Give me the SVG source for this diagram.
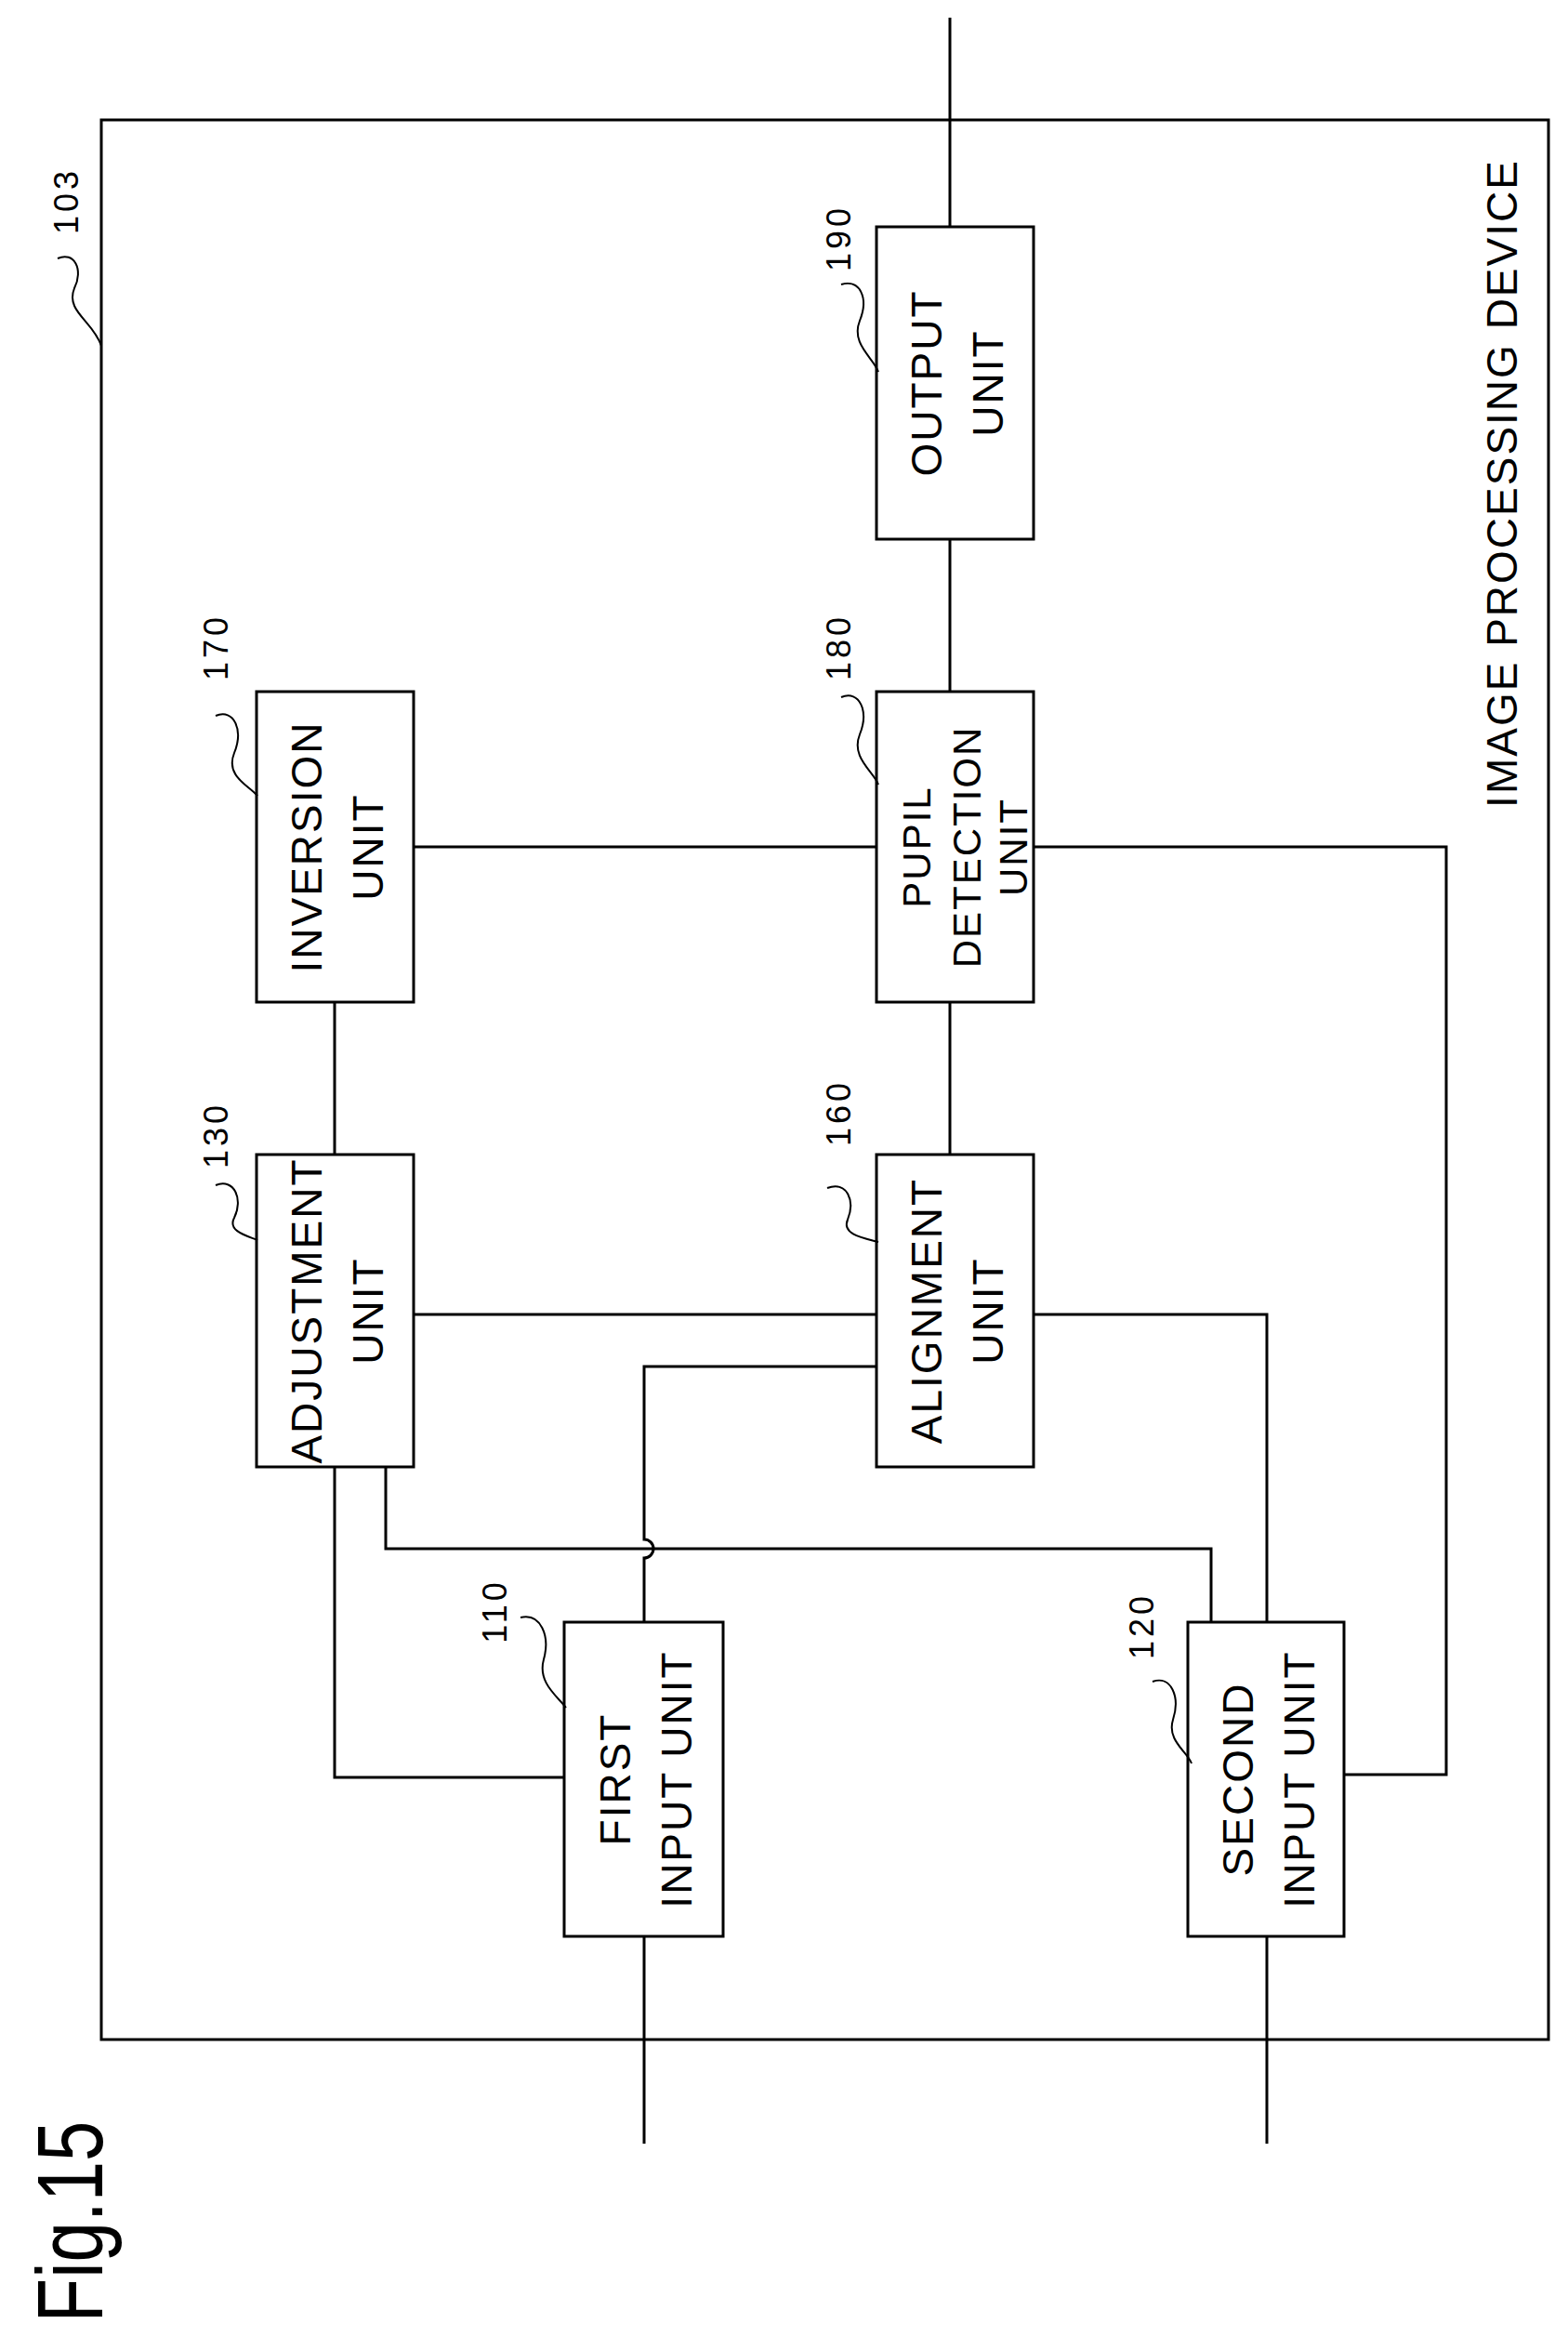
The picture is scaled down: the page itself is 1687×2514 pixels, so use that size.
<svg xmlns="http://www.w3.org/2000/svg" width="1687" height="2514" viewBox="0 0 1687 2514">
<style>
.b{fill:#fff;stroke:#000;stroke-width:3}
.c{fill:none;stroke:#000;stroke-width:3}
.t{font-family:"Liberation Sans",Arial,sans-serif;font-size:46px;text-anchor:middle;fill:#000;letter-spacing:2px}
.n{font-family:"Liberation Sans",Arial,sans-serif;font-size:36px;text-anchor:middle;fill:#000;letter-spacing:4px}
.l{fill:none;stroke:#000;stroke-width:2}
</style>
<rect width="1687" height="2514" fill="#fff"/>
<g id="device">
<rect x="109" y="129" width="1557" height="2065" class="c"/>
<text class="t" transform="translate(1632,520) rotate(-90)">IMAGE PROCESSING DEVICE</text>
<text class="n" transform="translate(84,216) rotate(-90)">103</text>
<path class="l" d="M62,278 C80,270 90,290 80,310 C70,335 100,345 109,372"/>
</g>
<g id="connectors">
<path class="c" d="M1022,19 V244 M1022,580 V744 M1022,1078 V1242"/>
<path class="c" d="M360,1078 V1242 M445,911 H943 M1112,911 H1556 V1909 H1446"/>
<path class="c" d="M445,1414 H943 M1112,1414 H1363 V1745"/>
<path class="c" d="M943,1470 H693 V1656 A10,10 0 0 1 693,1676 V1745"/>
<path class="c" d="M360,1578 V1912 H607"/>
<path class="c" d="M415,1578 V1666 H1303 V1745"/>
<path class="c" d="M693,2083 V2306 M1363,2083 V2306"/>
</g>
<g id="n190">
<rect x="943" y="244" width="169" height="336" class="b"/>
<text class="t" transform="translate(1027,412) rotate(-90)"><tspan x="0" y="-14">OUTPUT</tspan><tspan x="0" y="52">UNIT</tspan></text>
<text class="n" transform="translate(915,256) rotate(-90)">190</text>
<path class="l" d="M905,306 C925,300 935,320 925,345 C915,370 940,385 945,400"/>
</g>
<g id="n170">
<rect x="276" y="744" width="169" height="334" class="b"/>
<text class="t" transform="translate(360,911) rotate(-90)"><tspan x="0" y="-14">INVERSION</tspan><tspan x="0" y="52">UNIT</tspan></text>
<text class="n" transform="translate(245,696) rotate(-90)">170</text>
<path class="l" d="M232,770 C252,762 262,785 252,810 C242,835 268,845 277,856"/>
</g>
<g id="n180">
<rect x="943" y="744" width="169" height="334" class="b"/>
<text class="t" style="font-size:42px" transform="translate(1027,911) rotate(-90)"><tspan x="0" y="-26">PUPIL</tspan><tspan x="0" y="28">DETECTION</tspan><tspan x="0" y="78">UNIT</tspan></text>
<text class="n" transform="translate(915,696) rotate(-90)">180</text>
<path class="l" d="M905,750 C925,742 935,765 925,790 C915,815 940,830 945,844"/>
</g>
<g id="n130">
<rect x="276" y="1242" width="169" height="336" class="b"/>
<text class="t" transform="translate(360,1410) rotate(-90)"><tspan x="0" y="-14">ADJUSTMENT</tspan><tspan x="0" y="52">UNIT</tspan></text>
<text class="n" transform="translate(245,1221) rotate(-90)">130</text>
<path class="l" d="M232,1275 C252,1267 262,1290 252,1310 C244,1325 268,1330 277,1334"/>
</g>
<g id="n160">
<rect x="943" y="1242" width="169" height="336" class="b"/>
<text class="t" transform="translate(1027,1410) rotate(-90)"><tspan x="0" y="-14">ALIGNMENT</tspan><tspan x="0" y="52">UNIT</tspan></text>
<text class="n" transform="translate(915,1197) rotate(-90)">160</text>
<path class="l" d="M890,1278 C912,1270 920,1292 912,1312 C905,1328 930,1332 945,1336"/>
</g>
<g id="n110">
<rect x="607" y="1745" width="171" height="338" class="b"/>
<text class="t" transform="translate(692,1914) rotate(-90)"><tspan x="0" y="-14">FIRST</tspan><tspan x="0" y="52">INPUT UNIT</tspan></text>
<text class="n" transform="translate(545,1733) rotate(-90)">110</text>
<path class="l" d="M560,1740 C582,1735 592,1760 585,1785 C578,1810 600,1825 609,1837"/>
</g>
<g id="n120">
<rect x="1278" y="1745" width="168" height="338" class="b"/>
<text class="t" transform="translate(1362,1914) rotate(-90)"><tspan x="0" y="-14">SECOND</tspan><tspan x="0" y="52">INPUT UNIT</tspan></text>
<text class="n" transform="translate(1241,1749) rotate(-90)">120</text>
<path class="l" d="M1240,1809 C1260,1802 1270,1825 1262,1850 C1255,1872 1278,1885 1282,1897"/>
</g>
<text transform="translate(110,2390) rotate(-90)" style="font-family:'Liberation Sans',Arial,sans-serif;font-size:100px" text-anchor="middle" textLength="217" lengthAdjust="spacingAndGlyphs">Fig.15</text>
</svg>
